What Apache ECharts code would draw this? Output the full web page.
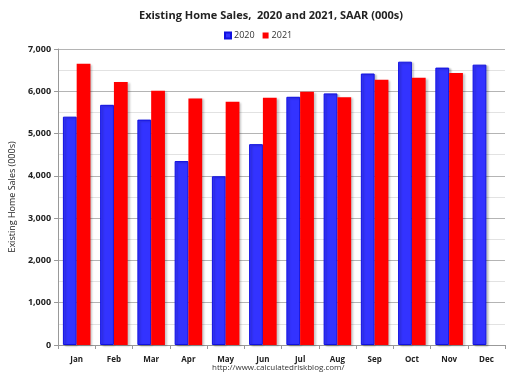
<!DOCTYPE html>
<html><head><meta charset="utf-8">
<script src="https://cdn.jsdelivr.net/npm/echarts@6/dist/echarts.min.js"></script>
<style>html,body{margin:0;padding:0;background:#fff}#c{width:512px;height:377px}</style>
</head><body><div id="c"></div>
<script>
const categories = ['Jan','Feb','Mar','Apr','May','Jun','Jul','Aug','Sep','Oct','Nov','Dec'];
const sales2020 = [5400, 5680, 5330, 4350, 3990, 4750, 5870, 5950, 6420, 6700, 6560, 6630];
const sales2021 = [6650, 6220, 6010, 5830, 5750, 5850, 5990, 5860, 6270, 6320, 6430, null];
const yTicks = [0, 1000, 2000, 3000, 4000, 5000, 6000, 7000];

const font = "'Open Sans', 'Liberation Sans', sans-serif";
const chart = echarts.init(document.getElementById('c'), null, {renderer: 'canvas'});
const shadow = {shadowColor: 'rgba(0,0,0,0.22)', shadowBlur: 2, shadowOffsetX: 2, shadowOffsetY: 1};
chart.setOption({
  animation: false,
  title: {
    text: 'Existing Home Sales,  2020 and 2021, SAAR (000s)',
    left: 266, top: 5, textAlign: 'center',
    textStyle: {fontFamily: font, fontSize: 11, fontWeight: 'bold', color: '#222'}
  },
  legend: {
    data: ['2020', '2021'], left: 219, top: 26, itemWidth: 6, itemHeight: 6, itemGap: 8,
    icon: 'rect',
    textStyle: {fontFamily: font, fontSize: 9, color: '#333', padding: [0, 0, 0, -2]}
  },
  grid: {left: 48, right: 7, top: 49, bottom: 32, containLabel: false},
  xAxis: {
    type: 'category', data: categories,
    axisLine: {lineStyle: {color: '#999'}},
    axisTick: {show: true, alignWithLabel: false, length: 4, lineStyle: {color: '#999'}},
    axisLabel: {fontFamily: font, fontSize: 8, fontWeight: 'bold', color: '#222', margin: 11}
  },
  yAxis: {
    type: 'value', min: yTicks[0], max: yTicks[yTicks.length - 1], interval: 1000,
    name: 'Existing Home Sales (000s)', nameLocation: 'middle', nameGap: 36,
    nameTextStyle: {fontFamily: font, fontSize: 9, color: '#222'},
    axisLine: {show: true, lineStyle: {color: '#999'}},
    axisTick: {show: true, length: 4, lineStyle: {color: '#999'}},
    axisLabel: {fontFamily: font, fontSize: 9, fontWeight: 'bold', color: '#222', margin: 7,
      formatter: v => v.toLocaleString('en-US')},
    splitLine: {lineStyle: {color: '#b4b4b4'}},
    minorTick: {show: false, splitNumber: 2},
    minorSplitLine: {show: true, lineStyle: {color: '#e2e2e2'}}
  },
  series: [
    {name: '2020', type: 'bar', data: sales2020, barWidth: '37%', barGap: '0%',
      itemStyle: Object.assign({color: '#3333FF', borderColor: '#1010E0', borderWidth: 1}, shadow)},
    {name: '2021', type: 'bar', data: sales2021, barWidth: '37%', barGap: '0%',
      itemStyle: Object.assign({color: '#FF0000'}, shadow)}
  ],
  graphic: [{
    type: 'text', left: 212, top: 364,
    style: {text: 'http://www.calculatedriskblog.com/', fontFamily: font, fontSize: 8, fill: '#333'}
  }]
});
</script></body></html>
